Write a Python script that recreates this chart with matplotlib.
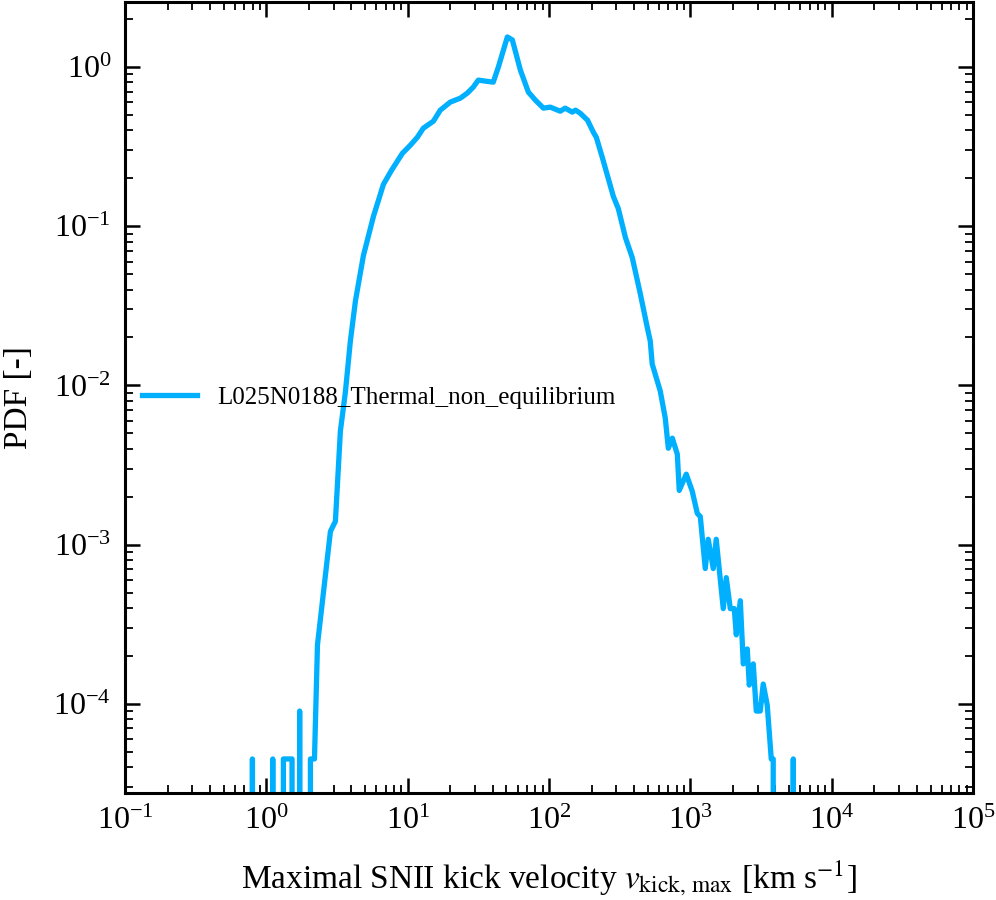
import numpy as np
import matplotlib
matplotlib.use("Agg")
import matplotlib.pyplot as plt

plt.rcParams['font.family'] = ['Liberation Serif', 'DejaVu Serif']
plt.rcParams['mathtext.fontset'] = 'stix'

# bin centres [km/s] and PDF values (0 = empty bin)
v_kick = [0.747, 0.797, 0.851, 1.035, 1.11, 1.19, 1.24, 1.32, 1.42, 1.52, 1.62,
          1.72, 1.83, 1.92, 2.05, 2.19, 2.30, 2.84, 3.08, 3.34, 3.63, 3.93,
          4.27, 4.86, 5.72, 6.73, 7.67, 9.17, 10.45, 11.7, 12.9, 15.2, 17.0,
          20.0, 23.6, 26.4, 29.1, 31.6, 35.4, 40.3, 43.8, 50.7, 55.0, 62.7,
          71.4, 80.0, 91.2, 102, 120, 130, 146, 154, 166, 187, 206, 216, 238,
          285, 309, 347, 388, 442, 496, 520, 537, 612, 664, 698, 745, 808,
          834, 935, 1031, 1119, 1175, 1274, 1337, 1451, 1523, 1708, 1794,
          1915, 2044, 2112, 2255, 2367, 2526, 2609, 2785, 2924, 3120, 3275,
          3497, 3733, 3855, 4050, 5080, 5345, 5610]
pdf = [0, 4.5e-5, 0, 0, 4.5e-5, 0, 0, 4.5e-5, 4.5e-5, 4.5e-5, 0,
       9e-5, 0, 0, 4.5e-5, 4.5e-5, 2.35e-4, 1.21e-3, 1.40e-3, 5.16e-3, 9.2e-3, 0.0190,
       0.0340, 0.0654, 0.115, 0.183, 0.224, 0.287, 0.323, 0.362, 0.413, 0.457, 0.536,
       0.602, 0.638, 0.686, 0.748, 0.828, 0.816, 0.804, 1.0, 1.545, 1.48, 0.957,
       0.696, 0.620, 0.552, 0.560, 0.528, 0.552, 0.521, 0.536, 0.513, 0.464, 0.389, 0.362, 0.271,
       0.154, 0.129, 0.0849, 0.0635, 0.0377, 0.0230, 0.0190, 0.0136, 9.22e-3, 6.23e-3, 4.03e-3, 4.66e-3, 3.70e-3,
       2.19e-3, 2.77e-3, 2.16e-3, 1.57e-3, 1.50e-3, 7.07e-4, 1.08e-3, 7.07e-4, 1.08e-3, 3.96e-4, 6.2e-4,
       3.96e-4, 3.96e-4, 2.71e-4, 4.44e-4, 1.78e-4, 2.21e-4, 1.31e-4, 1.78e-4, 9e-5, 9e-5, 1.33e-4,
       9.8e-5, 4.5e-5, 4.5e-5, 0, 0, 4.5e-5, 0]

run_name = 'L025N0188_Thermal_non_equilibrium'

fig = plt.figure(figsize=(9.96, 9), dpi=100)
ax = fig.add_axes([0.1255, 0.1186, 0.8515, 0.8794])

ax.plot(v_kick, pdf, color='#00b0ff', lw=3.8, label=run_name)

ax.set_xscale('log')
ax.set_yscale('log')
ax.set_xlim(1e-1, 1e5)
ax.set_ylim(2.74e-5, 2.57)

ax.set_xlabel(r'Maximal SNII kick velocity $v_{\rm kick,\,max}$ [km s$^{-1}$]', fontsize=24, labelpad=16)
ax.set_ylabel('PDF [-]', fontsize=24, labelpad=14)

for s in ax.spines.values():
    s.set_linewidth(2.2)
ax.tick_params(which='both', direction='in', top=True, right=True, labelsize=23)
ax.tick_params(which='major', length=11, width=1.8, pad=10)
ax.tick_params(which='minor', length=5.5, width=1.3)
ax.xaxis.set_minor_locator(matplotlib.ticker.LogLocator(base=10, subs=np.arange(2, 10), numticks=20))
ax.yaxis.set_minor_locator(matplotlib.ticker.LogLocator(base=10, subs=np.arange(2, 10), numticks=20))

ax.legend(loc='center left', frameon=False, fontsize=18, handlelength=2.2, borderaxespad=0.3)

fig.savefig('out.png', dpi=100)
